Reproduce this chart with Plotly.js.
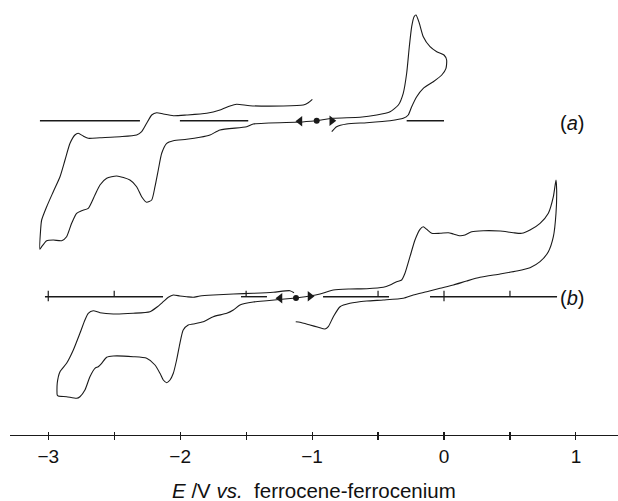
<!DOCTYPE html>
<html>
<head>
<meta charset="utf-8">
<script src="https://cdn.plot.ly/plotly-3.0.1.min.js"></script>
<style>html,body{margin:0;padding:0;background:#fff;}#chart{width:618px;height:501px;}</style>
</head>
<body>
<div id="chart"></div>
<script>
// ---- data: potential E (V vs Fc/Fc+) and current (arbitrary units, relative to each trace baseline) ----
// Trace (a): scan from start going negative, then back (left loop)
const aLeftE = [-0.965,-1.092,-1.446,-1.496,-1.698,-1.774,-1.850,-1.951,-2.052,-2.102,-2.140,-2.166,-2.191,-2.216,-2.254,-2.292,-2.330,-2.381,-2.481,-2.557,-2.608,-2.646,-2.697,-2.747,-2.785,-2.823,-2.861,-2.898,-2.962,-3.012,-3.050,-3.063,
  -3.058,-3.050,-3.012,-2.962,-2.911,-2.873,-2.835,-2.798,-2.773,-2.735,-2.697,-2.608,-2.456,-2.330,-2.292,-2.254,-2.216,-2.178,-2.128,-2.052,-1.951,-1.799,-1.698,-1.622,-1.572,-1.471,-1.218,-1.067,-1.029,-0.998];
const aLeftI = [0,-0.13,-0.33,-0.60,-0.93,-1.43,-1.66,-1.86,-2.00,-2.26,-3.26,-4.93,-6.60,-7.93,-8.16,-7.60,-6.60,-5.93,-5.53,-5.76,-6.43,-7.43,-8.76,-9.00,-9.26,-10.26,-11.60,-12.00,-11.93,-12.00,-12.60,-12.86,
  -10.93,-9.93,-8.60,-7.10,-5.60,-3.93,-2.26,-1.43,-1.26,-1.53,-1.76,-1.70,-1.60,-1.43,-1.10,-0.26,0.57,0.80,0.67,0.50,0.57,0.74,1.07,1.47,1.64,1.50,1.47,1.57,1.80,2.14];
// Trace (a): scan from start going positive, then back
const aRightE = [-0.965,-0.839,-0.637,-0.510,-0.409,-0.346,-0.309,-0.283,-0.263,-0.245,-0.227,-0.212,-0.187,-0.157,-0.106,-0.055,0.000,0.020,0.015,-0.017,-0.081,-0.157,-0.207,-0.245,-0.271,-0.309,-0.409,-0.586,-0.738,-0.814,-0.851];
const aRightI = [0,0.24,0.34,0.57,0.90,1.57,2.74,4.74,7.40,9.40,10.40,10.57,9.74,8.40,7.40,6.90,6.57,6.07,5.24,4.57,3.90,3.24,2.40,1.40,0.57,0.24,0.00,-0.20,-0.33,-0.60,-1.10];
// Trace (b): scan from start going negative, then back
const bLeftE = [-1.122,-1.230,-1.344,-1.446,-1.547,-1.597,-1.647,-1.749,-1.825,-1.901,-1.939,-1.977,-2.002,-2.027,-2.052,-2.077,-2.102,-2.128,-2.153,-2.191,-2.254,-2.356,-2.507,-2.557,-2.595,-2.621,-2.646,-2.684,-2.722,-2.760,-2.785,-2.861,-2.924,-2.932,
  -2.932,-2.911,-2.861,-2.810,-2.760,-2.722,-2.697,-2.659,-2.608,-2.507,-2.356,-2.229,-2.178,-2.128,-2.090,-2.052,-2.002,-1.951,-1.901,-1.850,-1.749,-1.597,-1.446,-1.294,-1.168,-1.137];
const bLeftI = [-0.13,-0.26,-0.40,-0.53,-0.83,-1.33,-1.66,-2.00,-2.50,-2.73,-2.83,-3.33,-4.66,-6.33,-7.66,-8.33,-8.60,-8.33,-7.66,-6.83,-6.16,-6.00,-5.93,-6.06,-6.66,-7.00,-7.16,-8.00,-9.33,-10.00,-10.16,-10.00,-9.93,-9.83,
  -8.66,-7.50,-6.66,-5.33,-3.66,-2.33,-1.66,-1.40,-1.60,-1.73,-1.66,-1.50,-1.06,-0.50,-0.06,0.17,0.07,0.00,-0.06,0.07,0.17,0.27,0.34,0.44,0.60,0.40];
// Trace (b): scan from start going positive, then back
const bRightE = [-1.122,-1.016,-0.940,-0.839,-0.713,-0.586,-0.460,-0.409,-0.359,-0.321,-0.296,-0.258,-0.220,-0.182,-0.157,-0.131,-0.093,-0.030,0.033,0.071,0.121,0.159,0.210,0.298,0.425,0.525,0.589,0.652,0.728,0.791,0.829,0.849,
  0.854,0.849,0.829,0.791,0.728,0.652,0.551,0.425,0.273,0.172,0.071,-0.030,-0.131,-0.233,-0.309,-0.460,-0.586,-0.713,-0.788,-0.839,-0.877,-0.902,-0.953,-1.016,-1.092,-1.124];
const bRightI = [-0.13,0.07,0.27,0.67,0.77,0.80,0.94,1.17,1.50,1.67,2.34,4.00,5.67,6.74,7.00,6.74,6.34,6.34,6.40,6.27,6.10,6.17,6.50,6.60,6.57,6.40,6.34,6.67,7.34,8.34,10.00,11.67,
  10.67,8.34,6.00,4.50,3.50,2.90,2.57,2.27,1.94,1.57,1.17,0.84,0.50,0.17,-0.16,-0.33,-0.43,-0.66,-1.00,-2.00,-3.00,-3.23,-3.06,-2.83,-2.56,-2.50];
// zero-current reference segments (start, end pairs)
const aZeroE = [[-3.063,-2.305],[-2.002,-1.484],[-0.283,0.000]];
const bZeroE = [[-3.025,-2.130],[-1.539,-1.342],[-0.917,-0.417],[-0.106,0.857]];
const bZeroTicks = [-3.0,-2.5,-1.5,-0.5,0.0,0.5];
const bCrossTicks = [-3.0,0.0];
// scan start points and direction arrows
const aStart = -0.965, aArrowNeg = -1.092, aArrowPos = -0.851;
const bStart = -1.122, bArrowNeg = -1.243, bArrowPos = -1.016;
const axisTicks = [-3,-2.5,-2,-1.5,-1,-0.5,0,0.5,1];
const axisTickText = ['\u22123','','\u22122','','\u22121','','0','','1'];

// ---- layout constants (positions / styles) ----
const A_OFF = 31.43, B_OFF = 13.83;
const LC = '#1a1a1a';
const off = (arr, o) => arr.map(v => v + o);

function segs(pairs, o){
  const x=[], y=[];
  pairs.forEach(p => { x.push(p[0], p[1], null); y.push(o, o, null); });
  return {x, y};
}
function ticks(vals, o, cross){
  const x=[], y=[];
  vals.forEach(v => {
    const c = cross.includes(v);
    x.push(v, v, null);
    y.push(c ? o-0.45 : o, o+0.6, null);
  });
  return {x, y};
}

const traces = [];
const line = (x, y, w) => ({x, y, type:'scatter', mode:'lines', line:{color:LC, width:w||1.1, shape:'spline', smoothing:0.6}, hoverinfo:'skip', showlegend:false});

traces.push(line(aLeftE, off(aLeftI, A_OFF)));
traces.push(line(aRightE, off(aRightI, A_OFF)));
traces.push(line(bLeftE, off(bLeftI, B_OFF)));
traces.push(line(bRightE, off(bRightI, B_OFF)));

const az = segs(aZeroE, A_OFF);
traces.push({x:az.x, y:az.y, type:'scatter', mode:'lines', line:{color:LC, width:1.4}, hoverinfo:'skip', showlegend:false});
const bz = segs(bZeroE, B_OFF);
traces.push({x:bz.x, y:bz.y, type:'scatter', mode:'lines', line:{color:LC, width:1.4}, hoverinfo:'skip', showlegend:false});
const bt = ticks(bZeroTicks, B_OFF, bCrossTicks);
traces.push({x:bt.x, y:bt.y, type:'scatter', mode:'lines', line:{color:LC, width:1.2}, hoverinfo:'skip', showlegend:false});

// scan direction markers
traces.push({x:[aArrowNeg, bArrowNeg], y:[A_OFF-0.05, B_OFF-0.15], type:'scatter', mode:'markers', marker:{symbol:'triangle-left', size:9, color:LC}, hoverinfo:'skip', showlegend:false});
traces.push({x:[aArrowPos, bArrowPos], y:[A_OFF, B_OFF+0.05], type:'scatter', mode:'markers', marker:{symbol:'triangle-right', size:9, color:LC}, hoverinfo:'skip', showlegend:false});
traces.push({x:[aStart, bStart], y:[A_OFF, B_OFF-0.12], type:'scatter', mode:'markers', marker:{symbol:'circle', size:6, color:LC}, hoverinfo:'skip', showlegend:false});
// empty trace on overlay axis (for inner tick marks)
traces.push({x:[null], y:[null], xaxis:'x2', type:'scatter', mode:'lines', hoverinfo:'skip', showlegend:false});

const FONT = 'Liberation Sans, Arial, Helvetica, sans-serif';
const layout = {
  width:618, height:501,
  margin:{l:10, r:0, t:0, b:66},
  paper_bgcolor:'#fff', plot_bgcolor:'#fff',
  showlegend:false,
  xaxis:{range:[-3.29,1.319], showgrid:false, zeroline:false, showline:true, linecolor:LC, linewidth:1.3,
         tickmode:'array', tickvals:axisTicks, ticktext:axisTickText, ticks:'outside', ticklen:4, tickwidth:1.1, tickcolor:LC,
         tickfont:{family:FONT, size:19, color:'#111'}, ticklabelstandoff:0, fixedrange:true},
  xaxis2:{range:[-3.29,1.319], overlaying:'x', anchor:'y', side:'bottom', showgrid:false, zeroline:false, showline:false,
          tickmode:'array', tickvals:axisTicks, showticklabels:false, ticks:'inside', ticklen:3, tickwidth:1.1, tickcolor:LC},
  yaxis:{range:[0,43.5], visible:false, fixedrange:true},
  annotations:[
    {text:'<i>E</i> /V <i>vs.</i>&nbsp; ferrocene-ferrocenium', xref:'paper', yref:'paper', x:0.5, y:(435-490)/435,
     xanchor:'center', yanchor:'middle', showarrow:false, font:{family:FONT, size:20.5, color:'#111'}},
    {text:'(<i>a</i>)', x:0.974, y:A_OFF-0.2, xref:'x', yref:'y', xanchor:'center', yanchor:'middle', showarrow:false, font:{family:FONT, size:20, color:'#111'}},
    {text:'(<i>b</i>)', x:0.974, y:B_OFF-0.13, xref:'x', yref:'y', xanchor:'center', yanchor:'middle', showarrow:false, font:{family:FONT, size:20, color:'#111'}}
  ]
};
Plotly.newPlot('chart', traces, layout, {staticPlot:true, displayModeBar:false});
</script>
</body>
</html>
